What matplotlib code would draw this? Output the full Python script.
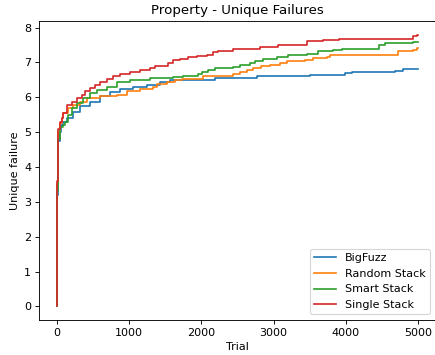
import matplotlib
matplotlib.use("Agg")
import matplotlib.pyplot as plt

# step breakpoints (trial, unique failures)
bigfuzz_x = [0, 1, 2, 4, 7, 12, 20, 35, 55, 80, 134, 226, 319, 457, 596, 734, 873,
             1053, 1242, 1427, 1565, 2188, 2766, 3504, 3989, 4082, 4681, 4792, 5000]
bigfuzz_y = [0, 1.2, 2.2, 3.2, 3.9, 4.4, 4.75, 5.0, 5.2, 5.3, 5.4, 5.59, 5.74, 5.88, 6.03, 6.14, 6.24,
             6.29, 6.36, 6.45, 6.5, 6.55, 6.6, 6.65, 6.7, 6.72, 6.76, 6.81, 6.81]

random_x = [0, 1, 2, 4, 7, 12, 20, 40, 65, 88, 157, 226, 319, 411, 596, 827, 965, 1150,
            1334, 1380, 1519, 1634, 1727, 2022, 2438, 2535, 2627, 2715, 2830, 2950, 3089,
            3181, 3435, 3546, 3735, 3781, 4723, 4930, 4985, 5000]
random_y = [0, 1.6, 2.6, 3.5, 4.2, 4.7, 5.0, 5.25, 5.4, 5.55, 5.69, 5.78, 5.88, 5.98, 6.03, 6.07, 6.17, 6.24,
            6.31, 6.39, 6.45, 6.5, 6.53, 6.6, 6.68, 6.74, 6.79, 6.84, 6.89, 6.94, 6.98,
            7.03, 7.07, 7.13, 7.17, 7.22, 7.32, 7.37, 7.42, 7.42]

smart_x = [0, 1, 2, 4, 7, 12, 20, 42, 80, 111, 157, 203, 272, 365, 457, 550, 688, 827,
           1011, 1288, 1607, 1745, 1953, 2004, 2091, 2188, 2438, 2535, 2673, 2742, 2853,
           3043, 3200, 3458, 3617, 3825, 3947, 4460, 4543, 4930, 5000]
smart_y = [0, 1.5, 2.5, 3.3, 4.0, 4.5, 4.8, 5.16, 5.2, 5.3, 5.5, 5.69, 5.83, 5.98, 6.12, 6.22, 6.31, 6.45,
           6.5, 6.55, 6.58, 6.62, 6.68, 6.74, 6.79, 6.84, 6.87, 6.94, 6.98, 7.03, 7.1,
           7.16, 7.22, 7.24, 7.32, 7.37, 7.4, 7.49, 7.56, 7.6, 7.6]

single_x = [0, 1, 2, 4, 7, 12, 20, 40, 69, 88, 134, 203, 272, 342, 388, 457, 526, 596,
            688, 780, 873, 1011, 1150, 1288, 1357, 1537, 1607, 1704, 1815, 1935, 2073,
            2160, 2230, 2438, 2812, 3061, 3458, 3686, 3906, 4930, 4985, 5000]
single_y = [0, 1.8, 2.8, 3.6, 4.3, 4.8, 5.1, 5.3, 5.41, 5.55, 5.78, 5.88, 5.98, 6.07, 6.17, 6.26, 6.36, 6.45,
            6.52, 6.6, 6.68, 6.72, 6.77, 6.84, 6.89, 6.98, 7.06, 7.1, 7.16, 7.19, 7.22,
            7.29, 7.34, 7.39, 7.44, 7.51, 7.61, 7.65, 7.68, 7.75, 7.8, 7.8]

labels = ['BigFuzz', 'Random Stack', 'Smart Stack', 'Single Stack']

dpi = 80
fig = plt.figure(figsize=(435 / dpi, 355 / dpi), dpi=dpi)
ax = fig.add_axes([39 / 435, 1 - 320 / 355, 397 / 435, 299 / 355])

series = [(bigfuzz_x, bigfuzz_y), (random_x, random_y), (smart_x, smart_y), (single_x, single_y)]
for (xs, ys), lab in zip(series, labels):
    ax.plot(xs, ys, drawstyle='steps-post', label=lab)

ax.set_title('Property - Unique Failures')
ax.set_xlabel('Trial')
ax.set_ylabel('Unique failure')
ax.legend(loc='lower right')

fig.savefig('out.png', dpi=dpi)
